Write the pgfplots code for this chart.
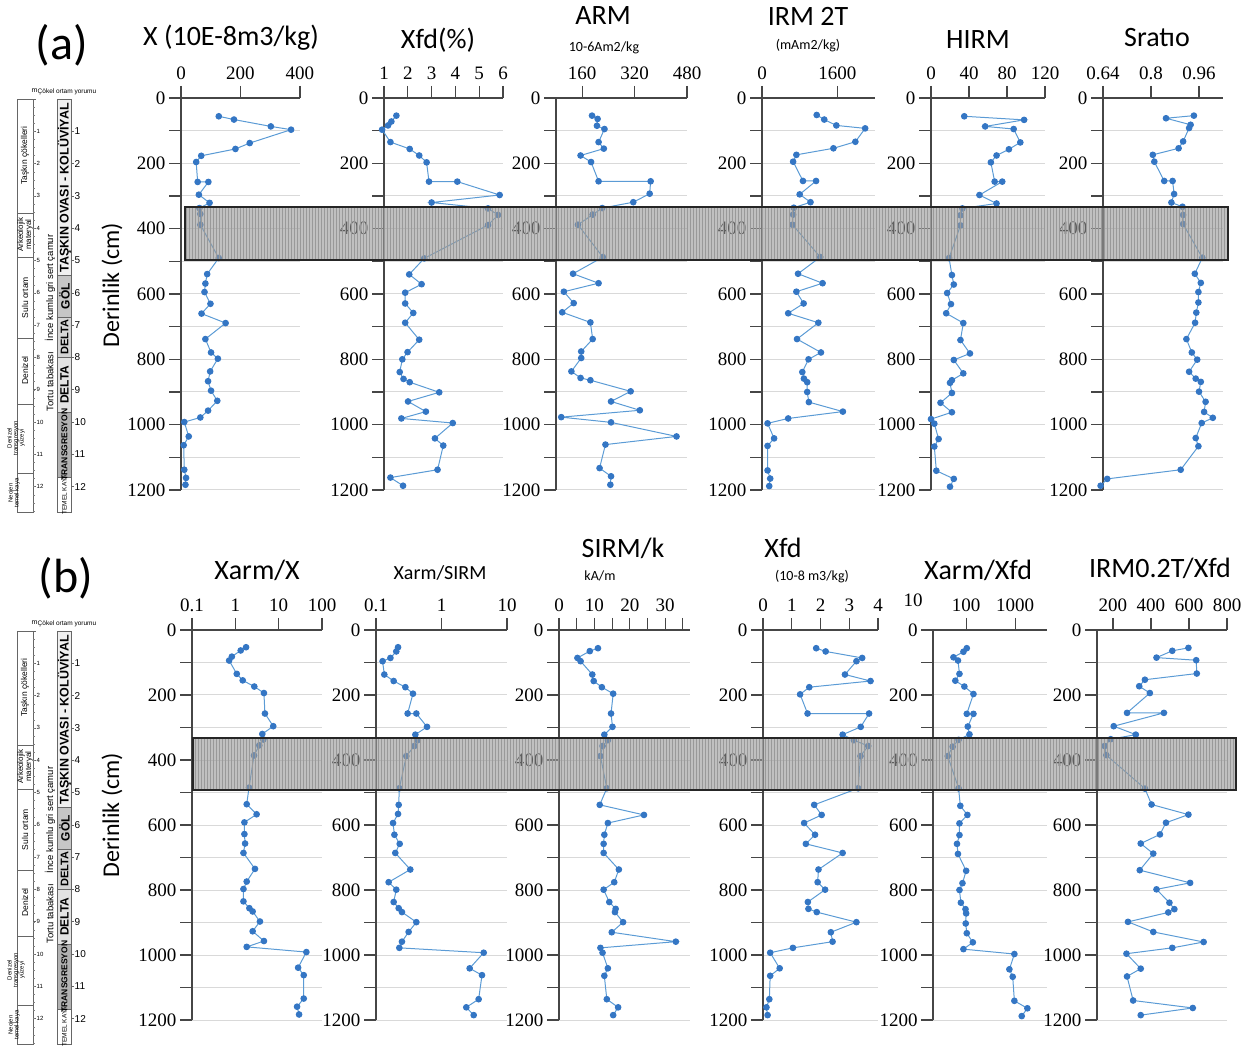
\documentclass[border=0pt]{standalone}
\usepackage{fontspec}
\setmainfont{Carlito}
\newfontfamily\numfont{Liberation Serif}
\newfontfamily\arialfont{Liberation Sans}
\usepackage{pgfplots}
\pgfplotsset{compat=1.18}
\usetikzlibrary{patterns}
\definecolor{lnblue}{RGB}{91,155,213}
\definecolor{mkblue}{RGB}{52,118,196}
\definecolor{axgray}{RGB}{70,70,70}
\definecolor{gridc}{RGB}{217,217,217}
\newcommand\fs[1]{\fontsize{#1}{#1}\selectfont}

\pgfplotsset{
  panel/.style={
    scale only axis, clip=false,
    y dir=reverse, ymin=0, ymax=1200,
    axis x line*=top, axis y line*=left,
    ytick={0,200,...,1200}, yticklabels={0,200,400,600,800,1000,1200},
    minor ytick={100,300,...,1100},
    ymajorgrids, yminorgrids,
    major grid style={gridc, line width=1pt},
    minor grid style={gridc, line width=1pt},
    tick align=outside, major tick length=12pt, minor tick length=12pt,
    tick style={axgray, line width=1.1pt},
    axis line style={axgray, line width=1.2pt, -},
    tick label style={font=\numfont\fs{19}},
    x tick label style={yshift=3pt},
    /pgf/number format/assume math mode=true,
  },
  rowa/.style={panel, height=392pt, anchor=north west},
  rowb/.style={panel, height=390pt, anchor=north west},
  dat/.style={lnblue, line width=1pt, mark=*, mark size=2.8pt, mark options={fill=mkblue, draw=mkblue}},
}

% stratigraphic column, #1 = y of 0 m
\newcommand\strat[1]{%
\begin{scope}[shift={(0pt,#1pt)}, x=1pt, y=-32.3pt]
  \draw[black!60, line width=0.5pt] (17,0) rectangle (33,12.8);
  \foreach \d in {3.55,4.9,7.4,9.45,11.6} \draw[black!60, line width=0.5pt] (17,\d)--(33,\d);
  \foreach \i in {0,...,12} \draw[black!60, line width=0.5pt] (33,\i)--(36,\i);
  \foreach \i in {0.25,0.5,...,12.75} \draw[black!50, line width=0.3pt] (33,\i)--(34.5,\i);
  \foreach \i in {1,...,12} \node[font=\arialfont\fs{6}, anchor=west, inner sep=0.5pt] at (36,\i) {\i};
  \node[font=\arialfont\fs{6.5}, anchor=south west, inner sep=0.5pt] at (37,-0.1) {Çökel ortam yorumu};
  \node[font=\arialfont\fs{7}, inner sep=0pt] at (34.5,-0.25) {m};
  \node[rotate=90, font=\arialfont\fs{8.5}] at (25,1.75) {Taşkın çökelleri};
  \node[rotate=90, font=\arialfont\fs{8}, align=center, inner sep=0pt] at (25,4.2) {Arkeolojik\\materyal};
  \node[rotate=90, font=\arialfont\fs{8.5}] at (25,6.15) {Sulu ortam};
  \node[rotate=90, font=\arialfont\fs{8.5}] at (25,8.4) {Denizel};
  \node[rotate=90, font=\arialfont\fs{6}, align=center, inner sep=0pt] at (16,10.5) {Denizel\\transgresyon\\yüzeyi};
  \node[rotate=90, font=\arialfont\fs{6}, align=center, inner sep=0pt] at (14,12.2) {Neojen\\temel kaya};
  \node[rotate=90, font=\arialfont\fs{9.5}, inner sep=0pt] at (50,5.85) {İnce kumlu gri sert çamur};
  \node[rotate=90, font=\arialfont\fs{9.5}, inner sep=0pt] at (50,8.75) {Tortu tabakası};
  \filldraw[fill=gray!12, draw=black!60] (57,0) rectangle (71,5.45);
  \filldraw[fill=gray!45, draw=black!60] (57,5.45) rectangle (71,6.75);
  \filldraw[fill=gray!33, draw=black!60] (57,6.75) rectangle (71,8.0);
  \filldraw[fill=gray!22, draw=black!60] (57,8.0) rectangle (71,9.7);
  \filldraw[fill=gray!60, draw=black!60] (57,9.7) rectangle (71,11.7);
  \filldraw[fill=white, draw=black!60] (57,11.7) rectangle (71,12.8);
  \node[rotate=90, font=\arialfont\bfseries\fs{12.5}, inner sep=0pt] at (64.5,2.75) {TAŞKIN OVASI - KOLÜVİYAL};
  \node[rotate=90, font=\arialfont\bfseries\fs{12}, inner sep=0pt] at (64.5,6.1) {GÖL};
  \node[rotate=90, font=\arialfont\bfseries\fs{11}, inner sep=0pt] at (64.5,7.37) {DELTA};
  \node[rotate=90, font=\arialfont\bfseries\fs{12}, inner sep=0pt] at (64.5,8.85) {DELTA};
  \node[rotate=90, font=\arialfont\bfseries\fs{8.5}, inner sep=0pt] at (64.5,10.7) {TRANSGRESYON};
  \node[rotate=90, font=\arialfont\fs{6.5}, inner sep=0pt] at (64.5,12.25) {TEMEL KAYA};
  \foreach \i in {1,...,12} {\draw[black!60, line width=0.5pt] (71,\i)--(74,\i);
    \node[font=\arialfont\fs{10}, anchor=west, inner sep=0.5pt] at (74,\i) {\i};}
\end{scope}}

\begin{document}
\begin{tikzpicture}
\useasboundingbox (0pt,0pt) rectangle (1255pt,1062pt);

% ---------------- row (a) ----------------
\begin{axis}[rowa, at={(181pt,964pt)}, width=119pt, xmin=0, xmax=400,
  xtick={0,200,400}, xticklabels={0,200,400}]
\addplot[dat] coordinates {(127,56)(178,66)(302,87)(370,97)(231,138)(183,156)(68,177)(51,196)
 (56,257)(92,257)(60,296)(96,321)(62,337)(65,355)(65,388)(127,490)(88,539)(82,568)(79,594)
 (99,630)(69,660)(150,689)(82,738)(101,779)(124,798)(98,837)(91,867)(101,896)(122,927)
 (91,957)(65,978)(11,992)(26,1036)(9,1063)(11,1138)(17,1163)(15,1184)};
\end{axis}

\begin{axis}[rowa, at={(384pt,964pt)}, width=119pt, xmin=1, xmax=6,
  xtick={1,2,3,4,5,6}, xticklabels={1,2,3,4,5,6}]
\addplot[dat] coordinates {(1.52,54)(1.31,72)(1.17,84)(0.92,97)(1.27,135)(2.08,156)(2.48,176)
 (2.79,197)(2.89,256)(4.08,256)(5.86,297)(3.0,320)(5.37,338)(5.79,358)(5.37,389)(2.69,491)
 (2.06,540)(2.58,570)(1.89,596)(1.89,629)(2.23,658)(1.89,688)(2.48,740)(1.99,778)(1.77,800)
 (1.66,839)(1.82,860)(2.08,870)(3.32,901)(2.01,929)(2.76,960)(1.73,981)(3.89,995)(3.14,1042)
 (3.49,1064)(3.25,1138)(1.27,1162)(1.80,1187)};
\end{axis}

\begin{axis}[rowa, at={(556pt,964pt)}, width=131pt, xmin=80, xmax=480,
  xtick={160,320,480}, xticklabels={160,320,480}]
\addplot[dat] coordinates {(190,54)(207,64)(205,85)(228,95)(210,135)(226,155)(155,176)(187,196)
 (210,255)(369,255)(366,293)(316,319)(221,337)(192,357)(147,388)(223,487)(132,538)(210,567)
 (104,593)(134,628)(99,656)(185,687)(192,738)(157,776)(157,796)(127,837)(155,857)(185,864)
 (308,898)(248,929)(336,956)(96,977)(248,993)(448,1036)(231,1061)(213,1133)(248,1158)(246,1184)};
\end{axis}

\begin{axis}[rowa, at={(762pt,964pt)}, width=113pt, xmin=0, xmax=2400,
  xtick={0,1600}, xticklabels={0,1600}]
\addplot[dat] coordinates {(1162,52)(1322,66)(1579,84)(2191,93)(1983,134)(1517,154)(730,174)
 (661,195)(870,254)(1148,254)(800,295)(1030,319)(675,336)(661,357)(647,388)(1238,487)(765,538)
 (1287,567)(730,593)(884,629)(556,659)(1197,688)(744,738)(1252,779)(988,800)(856,839)(890,859)
 (960,870)(960,900)(995,931)(1718,960)(556,981)(118,996)(257,1042)(118,1065)(118,1140)
 (174,1165)(153,1188)};
\end{axis}

\begin{axis}[rowa, at={(931pt,964pt)}, width=114pt, xmin=0, xmax=120,
  xtick={0,40,80,120}, xticklabels={0,40,80,120}]
\addplot[dat] coordinates {(35,56)(98,67)(57,87)(87,95)(94,136)(82,157)(69,176)(63,197)(67,256)
 (75,256)(51,297)(69,323)(33,338)(31,359)(31,390)(19,490)(22,542)(24,571)(17,597)(21,631)
 (16,659)(34,689)(31,741)(41,782)(24,802)(34,843)(22,864)(20,872)(22,903)(10,933)(22,962)
 (0,983)(3.5,997)(8,1044)(3.5,1067)(5.6,1141)(24,1166)(20,1190)};
\end{axis}

\begin{axis}[rowa, at={(1103pt,964pt)}, width=120pt, xmin=0.64, xmax=1.04,
  xtick={0.64,0.8,0.96}, xticklabels={0.64,0.8,0.96}]
\addplot[dat] coordinates {(0.943,54)(0.850,62)(0.932,82)(0.927,92)(0.907,133)(0.892,154)
 (0.806,174)(0.811,195)(0.844,254)(0.872,254)(0.877,294)(0.868,320)(0.905,333)(0.907,358)
 (0.907,386)(0.971,489)(0.946,538)(0.966,566)(0.958,594)(0.958,626)(0.951,657)(0.947,688)
 (0.918,738)(0.936,779)(0.954,801)(0.927,838)(0.949,859)(0.966,869)(0.960,899)(0.982,930)
 (0.977,961)(1.006,979)(0.969,995)(0.949,1041)(0.958,1066)(0.899,1138)(0.654,1166)(0.632,1187)};
\end{axis}

% ---------------- row (b) ----------------
\begin{axis}[rowb, at={(192pt,432pt)}, width=130pt, xmode=log, xmin=0.1, xmax=100,
  xminorticks=false, xtick={0.1,1,10,100}, xticklabels={0.1,1,10,100}]
\addplot[dat] coordinates {(1.77,53)(1.33,63)(0.83,82)(0.72,94)(1.08,135)(1.48,155)(2.74,174)
 (4.57,194)(4.82,257)(7.5,296)(4.19,320)(4.42,337)(3.57,355)(2.70,386)(2.07,485)(1.83,536)
 (3.10,567)(1.62,592)(1.62,628)(1.68,657)(1.54,686)(2.84,735)(1.83,774)(1.54,797)(1.54,835)
 (2.11,856)(2.51,866)(3.70,897)(2.51,927)(4.57,957)(1.83,975)(43.6,991)(28.1,1039)(37.9,1062)
 (37.9,1134)(26.6,1159)(29.6,1183)};
\end{axis}

\begin{axis}[rowb, at={(376pt,432pt)}, width=131pt, xmode=log, xmin=0.1, xmax=10,
  xminorticks=false, xtick={0.1,1,10}, xticklabels={0.1,1,10}]
\addplot[dat] coordinates {(0.217,53)(0.204,66)(0.166,86)(0.126,96)(0.134,137)(0.186,157)
 (0.281,176)(0.367,196)(0.304,257)(0.413,257)(0.601,298)(0.399,322)(0.433,339)(0.385,357)
 (0.290,388)(0.227,487)(0.222,538)(0.217,566)(0.182,594)(0.191,630)(0.230,658)(0.197,686)
 (0.334,737)(0.156,776)(0.204,799)(0.186,837)(0.222,856)(0.249,868)(0.413,899)(0.315,929)
 (0.249,959)(0.227,978)(4.41,993)(2.69,1041)(4.15,1062)(3.69,1136)(2.39,1161)(3.10,1185)};
\end{axis}

\begin{axis}[rowb, at={(559pt,432pt)}, width=131pt, xmin=0, xmax=37,
  xtick={0,10,20,30}, xticklabels={0,10,20,30}, minor xtick={5,15,25,35}]
\addplot[dat] coordinates {(11.0,56)(8.7,65)(5.2,86)(6.1,96)(9.4,137)(9.8,157)(12.1,176)
 (15.3,196)(14.7,257)(15.1,298)(12.8,322)(13.8,339)(12.3,357)(11.7,388)(13.5,487)(11.5,538)
 (24.0,569)(13.8,594)(12.8,630)(12.6,658)(12.6,686)(16.9,737)(15.6,776)(12.6,799)(14.2,837)
 (16.0,858)(15.8,868)(18.1,899)(14.9,930)(33.0,959)(11.7,978)(12.3,993)(13.8,1041)(12.8,1064)
 (13.5,1136)(16.7,1161)(15.3,1185)};
\end{axis}

\begin{axis}[rowb, at={(763pt,432pt)}, width=115pt, xmin=0, xmax=4,
  xtick={0,1,2,3,4}, xticklabels={0,1,2,3,4}]
\addplot[dat] coordinates {(1.85,56)(2.18,66)(3.45,86)(3.25,96)(2.85,137)(3.74,157)(1.61,176)
 (1.29,198)(1.55,257)(3.69,257)(3.40,298)(2.77,322)(3.16,339)(3.66,357)(3.39,388)(3.31,487)
 (1.78,538)(2.04,569)(1.43,594)(1.81,630)(1.49,658)(2.77,686)(1.93,737)(1.90,776)(2.16,799)
 (1.56,837)(1.58,858)(1.87,868)(3.25,899)(2.36,930)(2.42,959)(1.04,978)(0.25,993)(0.58,1041)
 (0.25,1064)(0.22,1136)(0.12,1161)(0.16,1185)};
\end{axis}

\begin{axis}[rowb, at={(933pt,432pt)}, width=114pt, xmode=log, xmin=21, xmax=4500,
  xminorticks=false, xtick={100,1000}, xticklabels={100,1000}]
\addplot[dat] coordinates {(103,56)(88,67)(55,84)(68,94)(73,135)(60,156)(92,174)(141,197)
 (103,258)(141,258)(108,297)(117,321)(70,338)(53,359)(42,388)(70,487)(76,541)(106,569)(73,595)
 (73,631)(65,658)(68,689)(100,741)(84,779)(73,800)(78,839)(97,859)(100,872)(98,903)(103,933)
 (137,961)(88,982)(968,997)(766,1044)(895,1067)(968,1141)(1786,1164)(1368,1188)};
\end{axis}

\begin{axis}[rowb, at={(1097pt,432pt)}, width=130pt, xmin=116, xmax=800,
  xtick={200,400,600,800}, xticklabels={200,400,600,800}]
\addplot[dat] coordinates {(597,55)(512,64)(429,85)(638,93)(641,134)(368,153)(338,173)(394,194)
 (274,255)(468,255)(204,296)(320,322)(188,336)(156,357)(165,385)(368,488)(403,537)(597,568)
 (479,593)(447,629)(346,657)(412,688)(341,739)(606,778)(429,798)(497,839)(523,859)(491,869)
 (279,898)(412,929)(677,960)(512,978)(271,996)(346,1042)(274,1066)(306,1140)(620,1163)(346,1185)};
\end{axis}

% shaded bands
\fill[gray!80, fill opacity=0.62] (185pt,802pt) rectangle (1228pt,855pt);
\fill[pattern=vertical lines, pattern color=black!40] (185pt,802pt) rectangle (1228pt,855pt);
\draw[black!85, line width=1.3pt] (185pt,802pt) rectangle (1228pt,855pt);
\fill[gray!80, fill opacity=0.62] (193pt,272pt) rectangle (1236pt,324pt);
\fill[pattern=vertical lines, pattern color=black!40] (193pt,272pt) rectangle (1236pt,324pt);
\draw[black!85, line width=1.3pt] (193pt,272pt) rectangle (1236pt,324pt);

% titles row (a)
\node[font=\fs{28}] at (231pt,1024pt) {X (10E-8m3/kg)};
\node[font=\fs{28}] at (438pt,1022pt) {Xfd(\%)};
\node[font=\fs{28}] at (603pt,1046pt) {ARM};
\node[font=\fs{14}] at (604pt,1014pt) {10-6Am2/kg};
\node[font=\fs{28}] at (808pt,1046pt) {IRM 2T};
\node[font=\fs{14}] at (808pt,1016pt) {(mAm2/kg)};
\node[font=\fs{28}] at (978pt,1022pt) {HIRM};
\node[font=\fs{28}] at (1157pt,1024pt) {Sratıo};
\node[font=\fs{48}] at (62pt,1017pt) {(a)};
\node[font=\fs{24}, rotate=90] at (112pt,777pt) {Derinlik (cm)};

% titles row (b)
\node[font=\fs{28}] at (257pt,492pt) {Xarm/X};
\node[font=\fs{20}] at (440pt,489pt) {Xarm/SIRM};
\node[font=\fs{28}] at (623pt,514pt) {SIRM/k};
\node[font=\fs{14}] at (600pt,486pt) {kA/m};
\node[font=\fs{28}] at (783pt,514pt) {Xfd};
\node[font=\fs{14}] at (812pt,485pt) {(10-8 m3/kg)};
\node[font=\fs{28}] at (978pt,492pt) {Xarm/Xfd};
\node[font=\fs{28}] at (1160pt,494pt) {IRM0.2T/Xfd};
\node[font=\fs{48}] at (66pt,484pt) {(b)};
\node[font=\fs{24}, rotate=90] at (112pt,247pt) {Derinlik (cm)};
\node[font=\numfont\fs{19}] at (913pt,462pt) {10};

\strat{963}
\strat{431}
\end{tikzpicture}
\end{document}
